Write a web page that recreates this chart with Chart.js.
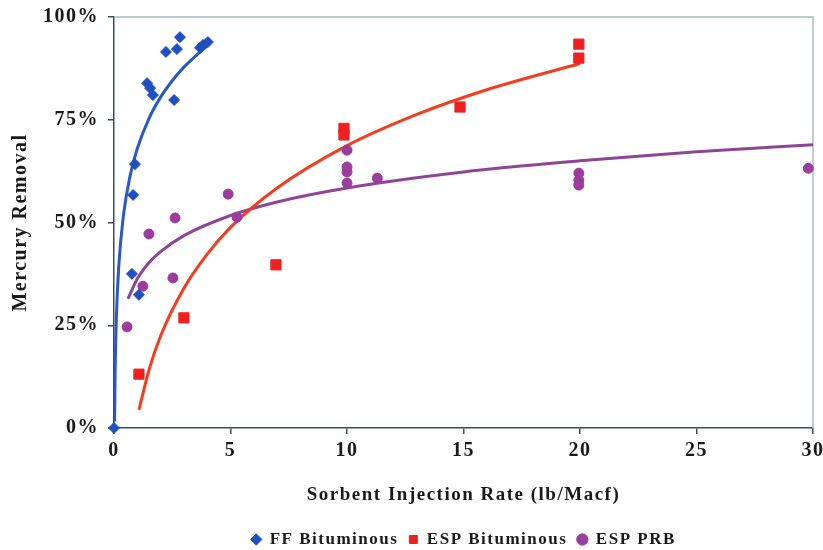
<!DOCTYPE html>
<html>
<head>
<meta charset="utf-8">
<script src="https://cdn.jsdelivr.net/npm/chart.js@4.4.1/dist/chart.umd.min.js"></script>
<style>
html,body{margin:0;padding:0;background:#ffffff;}
#wrap{width:823px;height:550px;position:relative;}
</style>
</head>
<body>
<div id="wrap"><canvas id="c" width="823" height="550"></canvas></div>
<script>
// ---- data ----
const xTicks = [0, 5, 10, 15, 20, 25, 30];
const yTicks = [0, 25, 50, 75, 100];

const ffX = [0, 0.77, 0.82, 0.9, 1.07, 1.42, 1.55, 1.67, 2.23, 2.58, 2.7, 2.83, 3.69, 3.82, 4.03];
const ffY = [0, 37.5, 56.7, 64.2, 32.4, 83.9, 82.7, 81.0, 91.5, 79.8, 92.2, 95.1, 92.5, 93.2, 93.9];

const espBX = [1.07, 3.0, 6.95, 9.87, 9.87, 14.85, 19.95, 19.95];
const espBY = [13.1, 26.8, 39.7, 72.9, 71.3, 78.1, 93.4, 90.0];

const prbX = [0.56, 1.24, 1.5, 2.53, 2.62, 4.9, 5.28, 10.0, 10.0, 10.0, 10.0, 11.3, 19.95, 19.95, 19.95, 29.8];
const prbY = [24.6, 34.5, 47.2, 36.5, 51.1, 56.9, 51.3, 67.6, 63.5, 62.3, 59.6, 60.8, 62.0, 60.3, 59.1, 63.2];

// trend curves, points
const ffFitX = [0.025, 0.05, 0.1, 0.2, 0.4, 0.7, 1, 1.5, 2, 2.5, 3, 3.5, 4];
const ffFitY = [1.6, 14.1, 26.6, 39.0, 51.5, 61.6, 68.0, 75.3, 80.5, 84.5, 87.8, 90.5, 93.0];

const espFitX = [1.07, 1.5, 2, 3, 4, 5, 7, 10, 13, 16, 20];
const espFitY = [4.4, 14.1, 22.4, 34.0, 42.3, 48.8, 58.4, 68.7, 76.3, 82.3, 88.7];

const prbFitX = [0.6, 1, 1.5, 2, 3, 5, 7, 10, 15, 20, 25, 30];
const prbFitY = [31.4, 36.3, 40.2, 42.9, 46.8, 51.7, 55.0, 58.4, 62.3, 65.0, 67.2, 68.9];

const seriesNames = ['FF Bituminous', 'ESP Bituminous', 'ESP PRB'];
const xTitle = 'Sorbent Injection Rate (lb/Macf)';
const yTitle = 'Mercury Removal';

// ---- build ----
const pts = (xs, ys) => xs.map((x, i) => ({x: x, y: ys[i]}));

const BLUE = '#1f4fc0', BLUE_L = '#2a58c8';
const RED = '#ee2020', RED_L = '#f43c1e';
const PUR = '#9b3d9c', PUR_L = '#8f4596';
const AXIS = '#35505a';
const FONT = "'Liberation Serif', 'Times New Roman', serif";
const SPACING = '1.5px';

const spacingPlugin = {
  id: 'spacing',
  beforeUpdate(c) { c.ctx.letterSpacing = SPACING; },
  beforeDraw(c) { c.ctx.letterSpacing = SPACING; }
};

const framePlugin = {
  id: 'frame',
  beforeDatasetsDraw(c) {
    const a = c.chartArea, ctx = c.ctx;
    ctx.save();
    ctx.strokeStyle = '#a9bcc2';
    ctx.lineWidth = 1.5;
    ctx.beginPath();
    ctx.moveTo(a.left, a.top);
    ctx.lineTo(a.right, a.top);
    ctx.lineTo(a.right, a.bottom);
    ctx.stroke();
    ctx.restore();
  }
};

const lineDs = (label, xs, ys, color) => ({
  label: label, data: pts(xs, ys), showLine: true, pointRadius: 0, pointHoverRadius: 0,
  borderColor: color, backgroundColor: color, borderWidth: 3,
  cubicInterpolationMode: 'monotone', order: 2, fill: false, isFit: true
});
const pointDs = (label, xs, ys, color, style, r) => ({
  label: label, data: pts(xs, ys), showLine: false, pointStyle: style,
  pointRadius: r, pointHoverRadius: r, backgroundColor: color, borderColor: color,
  borderWidth: 1, order: 1, clip: false
});

new Chart(document.getElementById('c'), {
  type: 'scatter',
  data: {
    datasets: [
      pointDs(seriesNames[0], ffX, ffY, BLUE, 'rectRot', 5.5),
      pointDs(seriesNames[1], espBX, espBY, RED, 'rect', 7.2),
      pointDs(seriesNames[2], prbX, prbY, PUR, 'circle', 5),
      lineDs(seriesNames[0] + ' fit', ffFitX, ffFitY, BLUE_L),
      lineDs(seriesNames[1] + ' fit', espFitX, espFitY, RED_L),
      lineDs(seriesNames[2] + ' fit', prbFitX, prbFitY, PUR_L)
    ]
  },
  options: {
    responsive: false,
    animation: false,
    devicePixelRatio: 1,
    layout: {padding: {left: 0, right: 10, top: 17, bottom: -8}},
    plugins: {
      tooltip: {enabled: false},
      legend: {
        position: 'bottom',
        fullSize: false,
        align: 'center',
        labels: {
          usePointStyle: true,
          boxWidth: 10,
          boxHeight: 8,
          padding: 10,
          color: '#1a1a1a',
          font: {family: FONT, size: 17, weight: 'bold'},
          filter: (item, data) => !data.datasets[item.datasetIndex].isFit
        }
      }
    },
    scales: {
      x: {
        type: 'linear', min: 0, max: 30,
        afterBuildTicks: s => { s.ticks = xTicks.map(v => ({value: v})); },
        afterFit: s => { s.height = 93; s.paddingLeft = 0; s.paddingRight = 0; },
        border: {display: true, color: AXIS, width: 1.5},
        grid: {display: true, drawOnChartArea: false, drawTicks: true, tickLength: 6, color: AXIS, lineWidth: 1.5},
        ticks: {color: '#1a1a1a', padding: 5, font: {family: FONT, size: 20, weight: 'bold'}, maxRotation: 0},
        title: {display: true, text: xTitle, color: '#1a1a1a', padding: {top: 0, bottom: 15},
                font: {family: FONT, size: 19, weight: 'bold'}}
      },
      y: {
        type: 'linear', min: 0, max: 100,
        afterBuildTicks: s => { s.ticks = yTicks.map(v => ({value: v})); },
        afterFit: s => { s.width = 114; s.paddingTop = 0; s.paddingBottom = 0; },
        border: {display: true, color: AXIS, width: 1.5},
        grid: {display: true, drawOnChartArea: false, drawTicks: true, tickLength: 6, color: AXIS, lineWidth: 1.5},
        ticks: {color: '#1a1a1a', padding: 9, font: {family: FONT, size: 20, weight: 'bold'},
                callback: v => v + '%'},
        title: {display: true, text: yTitle, color: '#1a1a1a', padding: {top: 9, bottom: 0},
                font: {family: FONT, size: 20, weight: 'bold'}}
      }
    }
  },
  plugins: [spacingPlugin, framePlugin]
});
</script>
</body>
</html>
